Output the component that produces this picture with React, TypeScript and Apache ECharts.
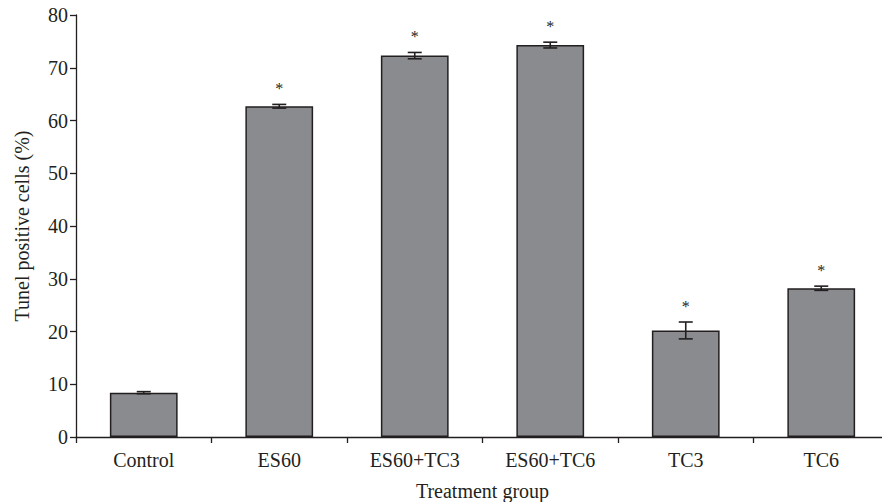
import React, { useEffect, useRef } from "react";
import * as echarts from "echarts";

const categories = ["Control", "ES60", "ES60+TC3", "ES60+TC6", "TC3", "TC6"];
const values = [8.4, 62.7, 72.3, 74.3, 20.2, 28.2];
const errors = [0.2, 0.35, 0.6, 0.55, 1.6, 0.4];
const significant = [false, true, true, true, true, true];
const yTicks = [0, 10, 20, 30, 40, 50, 60, 70, 80];

const FONT = "Liberation Serif";
const INK = "#231f20";

export default function App() {
  const ref = useRef<HTMLDivElement>(null);
  useEffect(() => {
    const chart = echarts.init(ref.current!, null, { renderer: "svg" });
    chart.setOption({
      animation: false,
      grid: { left: 76, right: 1, top: 15, bottom: 65, outerBoundsMode: "none", containLabel: false },
      xAxis: {
        type: "category",
        data: categories,
        name: "Treatment group",
        nameLocation: "middle",
        nameGap: 44,
        nameTextStyle: { color: INK, fontFamily: FONT, fontSize: 20 },
        axisLine: { lineStyle: { color: INK, width: 1.3 } },
        axisTick: { show: true, length: 6, lineStyle: { color: INK, width: 1.3 } },
        axisLabel: { color: INK, fontFamily: FONT, fontSize: 20, margin: 13 },
      },
      yAxis: {
        type: "value",
        min: 0,
        max: yTicks[yTicks.length - 1],
        interval: 10,
        name: "Tunel positive cells (%)",
        nameLocation: "middle",
        nameGap: 44,
        nameTextStyle: { color: INK, fontFamily: FONT, fontSize: 20 },
        splitLine: { show: false },
        axisLine: { show: true, lineStyle: { color: INK, width: 1.3 } },
        axisTick: { show: true, length: 6, lineStyle: { color: INK, width: 1.3 } },
        axisLabel: { color: INK, fontFamily: FONT, fontSize: 20, margin: 8 },
      },
      series: [
        {
          type: "bar",
          data: values,
          barWidth: "50%",
          itemStyle: { color: "#8a8b8e", borderColor: INK, borderWidth: 1.5 },
        },
        {
          type: "custom",
          data: values.map((v, i) => [i, v, errors[i], significant[i] ? 1 : 0]),
          renderItem: (params: any, api: any) => {
            const i = api.value(0);
            const v = api.value(1);
            const e = api.value(2);
            const sig = api.value(3);
            const hi = api.coord([i, v + e]);
            const lo = api.coord([i, v - e]);
            const w = 7;
            const style = { stroke: INK, lineWidth: 1.6 };
            const children: any[] = [
              { type: "line", shape: { x1: hi[0], y1: hi[1], x2: lo[0], y2: lo[1] }, style },
              { type: "line", shape: { x1: hi[0] - w, y1: hi[1], x2: hi[0] + w, y2: hi[1] }, style },
              { type: "line", shape: { x1: lo[0] - w, y1: lo[1], x2: lo[0] + w, y2: lo[1] }, style },
            ];
            if (sig) {
              children.push({
                type: "text",
                x: hi[0],
                y: hi[1] - 16,
                style: {
                  text: "*",
                  fill: INK,
                  font: `16px "${FONT}"`,
                  align: "center",
                  verticalAlign: "middle",
                },
              });
            }
            return { type: "group", children };
          },
          z: 5,
        },
      ],
    });
    return () => chart.dispose();
  }, []);
  return (
    <div
      style={{ position: "fixed", left: 0, top: 0, width: 882, height: 502, overflow: "hidden", background: "#fff" }}
    >
      <div ref={ref} style={{ width: 890, height: 502 }} />
    </div>
  );
}
